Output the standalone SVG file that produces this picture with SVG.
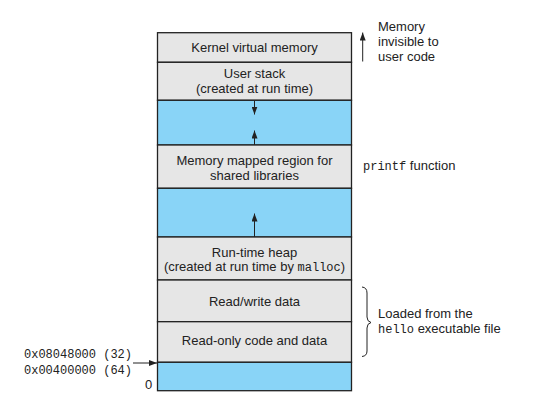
<svg xmlns="http://www.w3.org/2000/svg" width="535" height="411" viewBox="0 0 535 411">
<style>
.g{fill:#e6e6e6;stroke:#222;stroke-width:1.3}
.b{fill:#89d4f7;stroke:#222;stroke-width:1.3}
.t{font-family:"Liberation Sans",Arial,sans-serif;font-size:13px;fill:#222}
.c{text-anchor:middle}
.m{font-family:"Liberation Mono","Courier New",monospace;font-size:12px;fill:#222}
.l{stroke:#222;stroke-width:1;fill:none}
</style>
<defs>
<marker id="ah" viewBox="0 0 8 6" refX="8" refY="3" markerWidth="8" markerHeight="6" markerUnits="userSpaceOnUse" orient="auto">
<path d="M0,0 L8,3 L0,6 Z" fill="#222"/>
</marker>
</defs>
<rect width="535" height="411" fill="#fff"/>
<g id="kernel"><rect class="g" x="157.5" y="32.7" width="194" height="29.6"/><text class="t c" x="254.5" y="52">Kernel virtual memory</text></g>
<g id="stack"><rect class="g" x="157.5" y="62.3" width="194" height="38"/><text class="t c" x="254.5" y="78">User stack</text><text class="t c" x="254.5" y="93">(created at run time)</text></g>
<g id="gap1"><rect class="b" x="157.5" y="100.3" width="194" height="44.7"/></g>
<g id="mmap"><rect class="g" x="157.5" y="145" width="194" height="43.3"/><text class="t c" x="254.5" y="165">Memory mapped region for</text><text class="t c" x="254.5" y="179.5">shared libraries</text></g>
<g id="gap2"><rect class="b" x="157.5" y="188.3" width="194" height="48.7"/></g>
<g id="heap"><rect class="g" x="157.5" y="237" width="194" height="43"/><text class="t c" x="254.5" y="256.5">Run-time heap</text><text class="t c" x="254.5" y="271">(created at run time by <tspan class="m">malloc</tspan>)</text></g>
<g id="rw"><rect class="g" x="157.5" y="280" width="194" height="41.7"/><text class="t c" x="254.5" y="305.5">Read/write data</text></g>
<g id="ro"><rect class="g" x="157.5" y="321.7" width="194" height="40.6"/><text class="t c" x="254.5" y="345">Read-only code and data</text></g>
<g id="bottom"><rect class="b" x="157.5" y="362.3" width="194" height="28.4"/></g>
<g id="connectors">
<line class="l" x1="254.5" y1="101" x2="254.5" y2="114.5" marker-end="url(#ah)"/>
<line class="l" x1="254.5" y1="145" x2="254.5" y2="130.5" marker-end="url(#ah)"/>
<line class="l" x1="254.5" y1="237" x2="254.5" y2="213.5" marker-end="url(#ah)"/>
<line class="l" x1="362.7" y1="61.5" x2="362.7" y2="32.5" marker-end="url(#ah)"/>
<line class="l" x1="133" y1="363" x2="157" y2="363" marker-end="url(#ah)"/>
<path class="l" d="M362,287 Q367,287.5 367,293 L367,317 Q367,321.5 371,322.5 Q367,323.5 367,328 L367,351 Q367,356 362,356.5"/>
</g>
<g id="labels">
<text class="t" x="378" y="31">Memory</text>
<text class="t" x="378" y="46">invisible to</text>
<text class="t" x="378" y="60.5">user code</text>
<text x="363" y="170"><tspan class="m">printf</tspan><tspan class="t"> function</tspan></text>
<text class="t" x="378" y="318">Loaded from the</text>
<text x="378" y="333"><tspan class="m">hello</tspan><tspan class="t"> executable file</tspan></text>
<text class="m" x="24" y="358">0x08048000 (32)</text>
<text class="m" x="24" y="374">0x00400000 (64)</text>
<text class="t" x="145" y="389">0</text>
</g>
</svg>
